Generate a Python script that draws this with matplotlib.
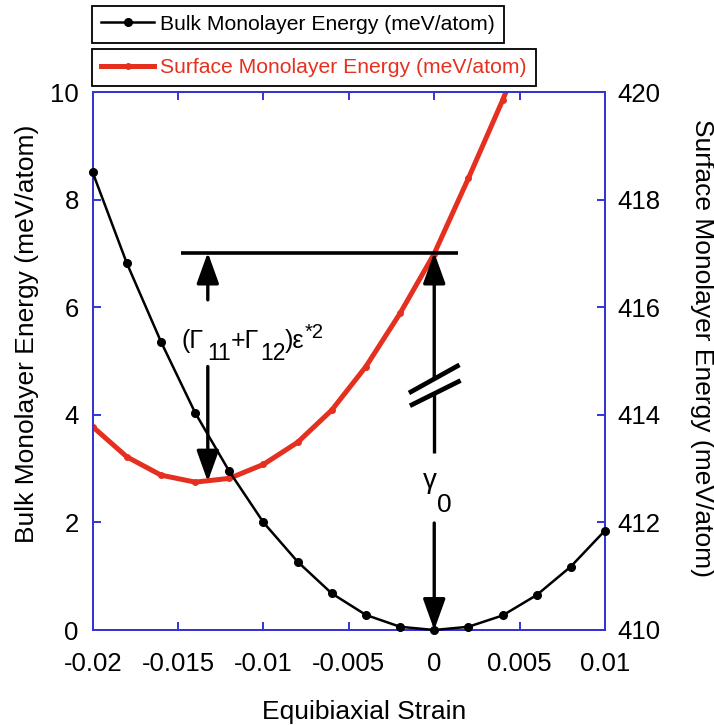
import matplotlib
matplotlib.use("Agg")
import matplotlib.pyplot as plt
from matplotlib.transforms import offset_copy

plt.rcParams['font.family'] = ['Liberation Sans', 'DejaVu Sans']

# ---- data ----
bulk_strain = [-0.020, -0.018, -0.016, -0.014, -0.012, -0.010, -0.008, -0.006,
               -0.004, -0.002, 0.000, 0.002, 0.004, 0.006, 0.008, 0.010]
bulk_energy = [8.51, 6.82, 5.36, 4.04, 2.95, 2.00, 1.27, 0.68,
               0.28, 0.06, 0.00, 0.06, 0.27, 0.65, 1.18, 1.85]

surf_strain = [-0.020, -0.018, -0.016, -0.014, -0.012, -0.010, -0.008, -0.006,
               -0.004, -0.002, 0.000, 0.002, 0.004, 0.006]
surf_energy = [413.78, 413.22, 412.88, 412.75, 412.82, 413.08, 413.49, 414.09,
               414.90, 415.89, 417.00, 418.40, 419.85, 421.40]

x_ticks = [-0.02, -0.015, -0.01, -0.005, 0, 0.005, 0.01]
x_ticklabels = ['-0.02', '-0.015', '-0.01', '-0.005', '0', '0.005', '0.01']
left_ticks = [0, 2, 4, 6, 8, 10]
right_ticks = [410, 412, 414, 416, 418, 420]

BLUE = '#3434d6'
RED = '#e5301f'

W, H = 714, 725
fig = plt.figure(figsize=(W / 100, H / 100), dpi=100)
ax = fig.add_axes([92.7 / W, 1 - 630 / H, 512.3 / W, 537.7 / H])
ax2 = ax.twinx()
ax.set_zorder(ax2.get_zorder() + 1)
ax.patch.set_visible(False)

# surface (right axis)
l_surf, = ax2.plot(surf_strain, surf_energy, color=RED, lw=3.6, marker='o',
                   ms=5, markeredgewidth=0)
ax2.set_ylim(410, 420)

# bulk (left axis)
l_bulk, = ax.plot(bulk_strain, bulk_energy, color='black', lw=1.8, marker='o',
                  ms=5.5, clip_on=False, zorder=3)
ax.set_xlim(-0.02, 0.01)
ax.set_ylim(0, 10)

ax.set_xticks(x_ticks)
ax.set_xticklabels(x_ticklabels)
ax.set_yticks(left_ticks)
ax.set_yticklabels([str(v) for v in left_ticks])
ax2.set_yticks(right_ticks)
ax2.set_yticklabels([str(v) for v in right_ticks])

ax.tick_params(axis='x', direction='in', top=True, length=6, width=1.4,
               color=BLUE, labelsize=18.5, pad=16)
ax.tick_params(axis='y', direction='in', length=6, width=1.4, color=BLUE,
               labelsize=18.5, pad=10)
ax2.tick_params(axis='y', direction='in', length=6, width=1.4, color=BLUE,
                labelsize=18.5, pad=9)
for a in (ax, ax2):
    for s in a.spines.values():
        s.set_color(BLUE)
        s.set_linewidth(1.4)

ax.set_xlabel('Equibiaxial Strain', fontsize=19, va='center', ha='center')
ax.xaxis.set_label_coords(0.53, -0.153)
ax.set_ylabel('Bulk Monolayer Energy (meV/atom)', fontsize=19,
              va='center', ha='center')
ax.yaxis.set_label_coords(-0.128, 0.55)
ax2.set_ylabel('Surface Monolayer Energy (meV/atom)', fontsize=19,
               rotation=270, va='center', ha='center')
ax2.yaxis.set_label_coords(1.189, 0.524)

# ---- annotations ----
aprops = dict(arrowstyle='-|>,head_length=1.0,head_width=0.36',
              mutation_scale=19, lw=2.4, color='black',
              shrinkA=0, shrinkB=0)

ax.plot([-0.0148, 0.0014], [7.02, 7.02], color='black', lw=2.6,
        solid_capstyle='butt', zorder=4)

xl = -0.01326
ax.annotate('', xy=(xl, 7.02), xytext=(xl, 6.14), arrowprops=aprops, zorder=5)
ax.annotate('', xy=(xl, 2.76), xytext=(xl, 4.90), arrowprops=aprops, zorder=5)

ax.annotate('', xy=(0, 7.02), xytext=(0, 4.67), arrowprops=aprops, zorder=5)
ax.plot([0, 0], [4.40, 3.29], color='black', lw=2.4, solid_capstyle='butt', zorder=5)
ax.plot([-0.00136, 0.00136], [4.43, 4.91], color='black', lw=3.4, zorder=5)
ax.plot([-0.00130, 0.00142], [4.19, 4.62], color='black', lw=3.4, zorder=5)
ax.annotate('', xy=(0, 0.0), xytext=(0, 1.99), arrowprops=aprops, zorder=5)

renderer = fig.canvas.get_renderer()


def rich_text(x, y, pieces):
    """Place text pieces (text, size, dx_gap_px, dy_px) left to right on a baseline."""
    cum = 0.0
    for txt, size, gap, dy in pieces:
        cum += gap
        tr = offset_copy(ax.transData, fig=fig, x=cum, y=dy, units='dots')
        t = ax.text(x, y, txt, fontsize=size, ha='left', va='baseline',
                    transform=tr, zorder=6)
        cum += t.get_window_extent(renderer).width


rich_text(-0.01479, 5.247, [('(\u0393', 18, 0, 0), ('11', 16.5, 3, -12),
                            ('+\u0393', 18, 0, 0), ('12', 16.5, 1, -12),
                            (')\u03b5', 18, 0, 0), ('*2', 14.5, 0, 10)])
rich_text(-0.00066, 2.65, [('\u03b3', 20, 0, 0), ('0', 19, 0, -24)])

# ---- legends (two separate boxes) ----
legkw = dict(loc='upper left', bbox_transform=fig.transFigure, frameon=True,
             fancybox=False, edgecolor='black', framealpha=1, borderaxespad=0,
             borderpad=0.42, handlelength=2.5, handletextpad=0.3, fontsize=15.2)
leg1 = fig.legend(handles=[l_bulk], labels=['Bulk Monolayer Energy (meV/atom)'],
                  bbox_to_anchor=(92.3 / W, 1 - 6 / H), labelcolor='black', **legkw)
leg2 = fig.legend(handles=[l_surf], labels=['Surface Monolayer Energy (meV/atom)'],
                  bbox_to_anchor=(92.3 / W, 1 - 49.3 / H), labelcolor=RED, **legkw)
for lg in (leg1, leg2):
    lg.get_frame().set_linewidth(1.3)

fig.savefig('out.png', dpi=100)
